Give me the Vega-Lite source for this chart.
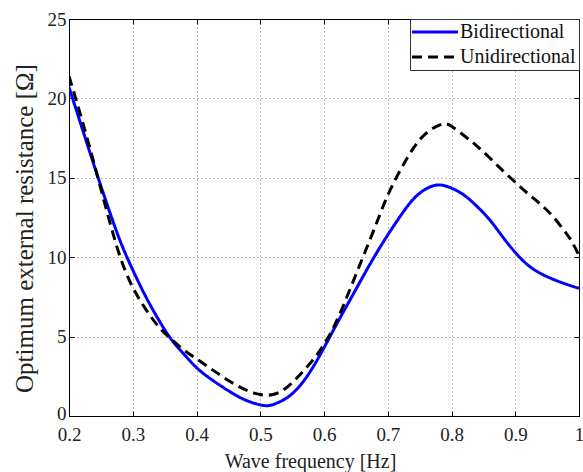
{
  "$schema": "https://vega.github.io/schema/vega-lite/v6.json",
  "width": 510,
  "height": 397,
  "autosize": {"type": "none"},
  "padding": {"left": 69, "top": 19, "right": 4, "bottom": 56},
  "background": "white",
  "config": {
    "font": "Liberation Serif",
    "view": {"stroke": "#000000", "strokeWidth": 1},
    "axis": {
      "domainColor": "#000000",
      "domainWidth": 1,
      "tickColor": "#000000",
      "tickSize": -5,
      "labelColor": "#222222",
      "labelFont": "Liberation Serif",
      "labelFontSize": 19,
      "labelFlush": false,
      "titleFont": "Liberation Serif",
      "titleFontWeight": "normal",
      "titleColor": "#222222",
      "gridColor": "#777777",
      "gridDash": [1, 3],
      "gridWidth": 1,
      "gridOpacity": 1
    }
  },
  "data": {
    "values": [
      {"f": 0.20, "R": 20.7, "series": "Bidirectional"},
      {"f": 0.22, "R": 18.2, "series": "Bidirectional"},
      {"f": 0.24, "R": 15.7, "series": "Bidirectional"},
      {"f": 0.26, "R": 13.3, "series": "Bidirectional"},
      {"f": 0.28, "R": 11.05, "series": "Bidirectional"},
      {"f": 0.30, "R": 9.2, "series": "Bidirectional"},
      {"f": 0.32, "R": 7.55, "series": "Bidirectional"},
      {"f": 0.34, "R": 6.1, "series": "Bidirectional"},
      {"f": 0.36, "R": 4.85, "series": "Bidirectional"},
      {"f": 0.38, "R": 3.9, "series": "Bidirectional"},
      {"f": 0.40, "R": 3.05, "series": "Bidirectional"},
      {"f": 0.42, "R": 2.4, "series": "Bidirectional"},
      {"f": 0.44, "R": 1.85, "series": "Bidirectional"},
      {"f": 0.46, "R": 1.35, "series": "Bidirectional"},
      {"f": 0.48, "R": 0.95, "series": "Bidirectional"},
      {"f": 0.50, "R": 0.7, "series": "Bidirectional"},
      {"f": 0.51, "R": 0.65, "series": "Bidirectional"},
      {"f": 0.52, "R": 0.72, "series": "Bidirectional"},
      {"f": 0.54, "R": 1.1, "series": "Bidirectional"},
      {"f": 0.56, "R": 1.8, "series": "Bidirectional"},
      {"f": 0.58, "R": 2.9, "series": "Bidirectional"},
      {"f": 0.60, "R": 4.3, "series": "Bidirectional"},
      {"f": 0.62, "R": 5.8, "series": "Bidirectional"},
      {"f": 0.64, "R": 7.25, "series": "Bidirectional"},
      {"f": 0.66, "R": 8.7, "series": "Bidirectional"},
      {"f": 0.68, "R": 10.1, "series": "Bidirectional"},
      {"f": 0.70, "R": 11.4, "series": "Bidirectional"},
      {"f": 0.72, "R": 12.6, "series": "Bidirectional"},
      {"f": 0.74, "R": 13.65, "series": "Bidirectional"},
      {"f": 0.76, "R": 14.3, "series": "Bidirectional"},
      {"f": 0.78, "R": 14.55, "series": "Bidirectional"},
      {"f": 0.80, "R": 14.35, "series": "Bidirectional"},
      {"f": 0.82, "R": 13.9, "series": "Bidirectional"},
      {"f": 0.84, "R": 13.2, "series": "Bidirectional"},
      {"f": 0.86, "R": 12.35, "series": "Bidirectional"},
      {"f": 0.88, "R": 11.3, "series": "Bidirectional"},
      {"f": 0.90, "R": 10.3, "series": "Bidirectional"},
      {"f": 0.92, "R": 9.5, "series": "Bidirectional"},
      {"f": 0.94, "R": 8.97, "series": "Bidirectional"},
      {"f": 0.96, "R": 8.6, "series": "Bidirectional"},
      {"f": 0.98, "R": 8.3, "series": "Bidirectional"},
      {"f": 1.00, "R": 8.04, "series": "Bidirectional"},
      {"f": 0.20, "R": 21.4, "series": "Unidirectional"},
      {"f": 0.22, "R": 18.7, "series": "Unidirectional"},
      {"f": 0.24, "R": 15.8, "series": "Unidirectional"},
      {"f": 0.26, "R": 12.8, "series": "Unidirectional"},
      {"f": 0.28, "R": 10.05, "series": "Unidirectional"},
      {"f": 0.30, "R": 8.1, "series": "Unidirectional"},
      {"f": 0.32, "R": 6.75, "series": "Unidirectional"},
      {"f": 0.34, "R": 5.65, "series": "Unidirectional"},
      {"f": 0.36, "R": 4.85, "series": "Unidirectional"},
      {"f": 0.38, "R": 4.16, "series": "Unidirectional"},
      {"f": 0.40, "R": 3.6, "series": "Unidirectional"},
      {"f": 0.42, "R": 3.05, "series": "Unidirectional"},
      {"f": 0.44, "R": 2.5, "series": "Unidirectional"},
      {"f": 0.46, "R": 2.0, "series": "Unidirectional"},
      {"f": 0.48, "R": 1.6, "series": "Unidirectional"},
      {"f": 0.50, "R": 1.35, "series": "Unidirectional"},
      {"f": 0.52, "R": 1.35, "series": "Unidirectional"},
      {"f": 0.54, "R": 1.75, "series": "Unidirectional"},
      {"f": 0.56, "R": 2.5, "series": "Unidirectional"},
      {"f": 0.58, "R": 3.4, "series": "Unidirectional"},
      {"f": 0.60, "R": 4.5, "series": "Unidirectional"},
      {"f": 0.62, "R": 6.0, "series": "Unidirectional"},
      {"f": 0.64, "R": 7.9, "series": "Unidirectional"},
      {"f": 0.66, "R": 9.9, "series": "Unidirectional"},
      {"f": 0.68, "R": 11.9, "series": "Unidirectional"},
      {"f": 0.70, "R": 13.9, "series": "Unidirectional"},
      {"f": 0.72, "R": 15.5, "series": "Unidirectional"},
      {"f": 0.74, "R": 16.85, "series": "Unidirectional"},
      {"f": 0.76, "R": 17.8, "series": "Unidirectional"},
      {"f": 0.78, "R": 18.3, "series": "Unidirectional"},
      {"f": 0.79, "R": 18.4, "series": "Unidirectional"},
      {"f": 0.80, "R": 18.25, "series": "Unidirectional"},
      {"f": 0.82, "R": 17.65, "series": "Unidirectional"},
      {"f": 0.84, "R": 17.0, "series": "Unidirectional"},
      {"f": 0.86, "R": 16.25, "series": "Unidirectional"},
      {"f": 0.88, "R": 15.47, "series": "Unidirectional"},
      {"f": 0.90, "R": 14.72, "series": "Unidirectional"},
      {"f": 0.92, "R": 14.0, "series": "Unidirectional"},
      {"f": 0.94, "R": 13.32, "series": "Unidirectional"},
      {"f": 0.96, "R": 12.52, "series": "Unidirectional"},
      {"f": 0.98, "R": 11.5, "series": "Unidirectional"},
      {"f": 0.99, "R": 10.9, "series": "Unidirectional"},
      {"f": 1.00, "R": 10.1, "series": "Unidirectional"}
    ]
  },
  "layer": [
    {
      "mark": {"type": "line", "interpolate": "natural", "strokeWidth": 3, "clip": true},
      "encoding": {
        "x": {
          "field": "f",
          "type": "quantitative",
          "scale": {"domain": [0.2, 1], "nice": false, "zero": false},
          "axis": {
            "orient": "bottom",
            "title": "Wave frequency [Hz]",
            "titleFontSize": 20,
            "titleX": 241,
            "values": [0.2, 0.3, 0.4, 0.5, 0.6, 0.7, 0.8, 0.9, 1],
            "format": ".1~f",
            "grid": true,
            "labelPadding": 14,
            "titlePadding": 7
          }
        },
        "y": {
          "field": "R",
          "type": "quantitative",
          "scale": {"domain": [0, 25], "nice": false, "zero": true},
          "axis": {
            "orient": "left",
            "title": "Optimum external resistance [Ω]",
            "titleFontSize": 25,
            "titleY": 209,
            "values": [0, 5, 10, 15, 20, 25],
            "grid": true,
            "labelPadding": 8,
            "labelOffset": {"condition": {"test": "datum.value === 0", "value": -3}, "value": 0},
            "titlePadding": 10
          }
        },
        "color": {
          "field": "series",
          "type": "nominal",
          "scale": {"domain": ["Bidirectional", "Unidirectional"], "range": ["#0000ff", "#000000"]},
          "legend": {
            "title": null,
            "orient": "top-right",
            "offset": 0,
            "padding": 3,
            "fillColor": "#ffffff",
            "strokeColor": "#333333",
            "symbolType": "M-3,0H3",
            "symbolSize": 235,
            "symbolStrokeWidth": 3,
            "symbolOffset": 12,
            "labelFont": "Liberation Serif",
            "labelFontSize": 20,
            "labelColor": "#111111",
            "labelOffset": 15,
            "rowPadding": 5
          }
        },
        "strokeDash": {
          "field": "series",
          "type": "nominal",
          "scale": {"domain": ["Bidirectional", "Unidirectional"], "range": [[1, 0], [10, 6]]},
          "legend": null
        }
      }
    },
    {
      "mark": {"type": "line", "opacity": 0},
      "encoding": {
        "x": {
          "field": "f",
          "type": "quantitative",
          "axis": {
            "orient": "top",
            "title": null,
            "labels": false,
            "grid": false,
            "values": [0.2, 0.3, 0.4, 0.5, 0.6, 0.7, 0.8, 0.9, 1]
          }
        },
        "y": {
          "field": "R",
          "type": "quantitative",
          "axis": {
            "orient": "right",
            "title": null,
            "labels": false,
            "grid": false,
            "values": [0, 5, 10, 15, 20, 25]
          }
        },
        "detail": {"field": "series", "type": "nominal"}
      }
    }
  ],
  "resolve": {"axis": {"x": "independent", "y": "independent"}}
}
